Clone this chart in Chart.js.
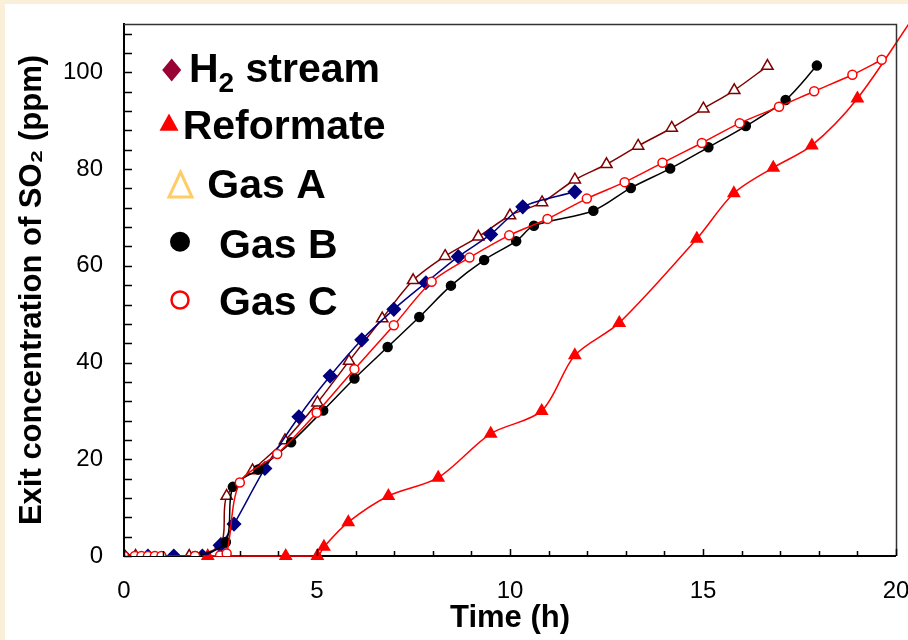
<!DOCTYPE html>
<html>
<head>
<meta charset="utf-8">
<script src="https://cdn.jsdelivr.net/npm/chart.js@4/dist/chart.umd.min.js"></script>
<style>
html,body{margin:0;padding:0;background:#fff;}
#wrap{width:908px;height:640px;position:relative;}
canvas{display:block;}
</style>
</head>
<body>
<div id="wrap"><canvas id="c" width="908" height="640"></canvas></div>
<script>
// ---------------- data ----------------
const xTitle = 'Time (h)';
const yTitle = 'Exit concentration of SO\u2082 (ppm)';
const legendLabels = ['H2 stream', 'Reformate', 'Gas A', 'Gas B', 'Gas C'];
const xTickLabels = [0, 5, 10, 15, 20];
const yTickLabels = [0, 20, 40, 60, 80, 100];

const h2StreamX = [0, 0.62, 1.29, 2.03, 2.49, 2.85, 3.65, 4.53, 5.34, 6.16, 6.99, 7.82, 8.66, 9.50, 10.33, 11.68];
const h2StreamY = [0, 0, 0, 0, 2.2, 6.6, 18.1, 28.8, 37.2, 44.7, 51.0, 56.5, 61.9, 66.5, 72.2, 75.3];

const reformateX = [2.17, 4.19, 5.01, 5.18, 5.81, 6.85, 8.14, 9.50, 10.82, 11.68, 12.83, 14.84, 15.80, 16.82, 17.82, 19.00, 20.50];
const reformateY = [0, 0, 0, 1.9, 7.0, 12.4, 16.2, 25.3, 30.0, 41.5, 48.2, 65.6, 75.0, 80.3, 84.9, 94.6, 112.0];

const gasAX = [0, 0.30, 1.69, 2.51, 2.66, 3.33, 4.17, 5.01, 5.83, 6.69, 7.49, 8.32, 9.18, 10.00, 10.83, 11.68, 12.50, 13.32, 14.19, 15.01, 15.81, 16.67];
const gasAY = [0, 0, 0, 2.4, 12.4, 17.7, 23.9, 31.7, 40.3, 49.1, 57.0, 62.0, 66.0, 70.4, 73.1, 77.8, 81.0, 84.8, 88.5, 92.5, 96.3, 101.3];

const gasBX = [0, 1.84, 2.64, 2.82, 3.48, 4.33, 5.16, 5.97, 6.83, 7.65, 8.47, 9.33, 10.16, 10.62, 12.16, 13.13, 14.15, 15.14, 16.11, 17.14, 17.95];
const gasBY = [0, 0, 2.9, 14.3, 17.9, 23.5, 30.1, 36.7, 43.2, 49.4, 55.9, 61.2, 65.1, 68.3, 71.4, 76.1, 80.1, 84.5, 88.9, 94.3, 101.4];

const gasCX = [0, 0.28, 0.45, 0.62, 0.80, 0.97, 1.84, 2.49, 2.66, 3.00, 3.97, 4.99, 5.97, 6.99, 7.97, 8.95, 9.98, 10.97, 11.99, 12.97, 13.95, 14.97, 15.95, 16.97, 17.88, 18.87, 19.63];
const gasCY = [0, 0, 0, 0, 0, 0, 0, 0.1, 0.5, 15.2, 21.1, 29.6, 38.6, 47.7, 56.7, 61.7, 66.3, 69.7, 73.9, 77.3, 81.3, 85.4, 89.5, 92.9, 96.1, 99.5, 102.6];

// ---------------- helpers ----------------
const FONT = "'Liberation Sans', Arial, Helvetica, sans-serif";
const pts = (xs, ys) => xs.map((x, i) => ({x: x, y: ys[i]}));

const bgPlugin = {
  id: 'bg',
  beforeDraw(chart) {
    const ctx = chart.ctx;
    ctx.save();
    ctx.fillStyle = '#FAF0DA';
    ctx.fillRect(0, 0, chart.width, chart.height);
    ctx.fillStyle = '#FFFFFF';
    ctx.fillRect(5, 4, chart.width - 5, chart.height - 4);
    ctx.restore();
  }
};

const ticksPlugin = {
  id: 'inTicks',
  afterDraw(chart) {
    const ctx = chart.ctx, a = chart.chartArea;
    const xs = chart.scales.x, ys = chart.scales.y;
    ctx.save();
    // frame top / right
    ctx.strokeStyle = '#333';
    ctx.lineWidth = 1.5;
    ctx.beginPath();
    ctx.moveTo(a.left, a.top + 0.5);
    ctx.lineTo(a.right + 0.5, a.top + 0.5);
    ctx.lineTo(a.right + 0.5, a.bottom);
    ctx.stroke();
    // inward ticks
    ctx.strokeStyle = '#000';
    ctx.lineWidth = 1.5;
    ctx.beginPath();
    xs.ticks.forEach(t => {
      const p = Math.round(xs.getPixelForValue(t.value)) + 0.5;
      const len = (t.value % 5 === 0) ? 7 : 5;
      ctx.moveTo(p, a.bottom);
      ctx.lineTo(p, a.bottom - len);
    });
    ys.ticks.forEach(t => {
      const p = Math.round(ys.getPixelForValue(t.value)) + 0.5;
      ctx.moveTo(a.left, p);
      ctx.lineTo(a.left + 8, p);
    });
    ctx.stroke();
    ctx.restore();
  }
};

const legendPlugin = {
  id: 'customLegend',
  afterDraw(chart) {
    const ctx = chart.ctx;
    ctx.save();
    // markers
    // H2 stream: diamond
    ctx.fillStyle = '#990033';
    ctx.beginPath();
    ctx.moveTo(171.7, 58.5); ctx.lineTo(181.2, 70); ctx.lineTo(171.7, 81.5); ctx.lineTo(162.2, 70);
    ctx.closePath(); ctx.fill();
    // Reformate: filled red triangle
    ctx.fillStyle = '#FF0000';
    ctx.beginPath();
    ctx.moveTo(169, 113.5); ctx.lineTo(178.5, 130.7); ctx.lineTo(159.5, 130.7);
    ctx.closePath(); ctx.fill();
    // Gas A: open orange triangle
    ctx.strokeStyle = '#FFCC66';
    ctx.lineWidth = 3;
    ctx.beginPath();
    ctx.moveTo(180.5, 172); ctx.lineTo(192, 197); ctx.lineTo(169, 197);
    ctx.closePath(); ctx.stroke();
    // Gas B: black dot
    ctx.fillStyle = '#000';
    ctx.beginPath(); ctx.arc(180, 241.7, 10, 0, Math.PI * 2); ctx.fill();
    // Gas C: open red circle
    ctx.fillStyle = '#fff';
    ctx.strokeStyle = '#FF0000';
    ctx.lineWidth = 2.5;
    ctx.beginPath(); ctx.arc(180, 300, 8.5, 0, Math.PI * 2); ctx.fill(); ctx.stroke();

    // texts
    ctx.fillStyle = '#000';
    ctx.textBaseline = 'alphabetic';
    ctx.textAlign = 'left';
    const big = 'bold 41px ' + FONT, sub = 'bold 28px ' + FONT;
    // "H2 stream" with subscript
    const h2 = legendLabels[0];
    ctx.font = big;
    ctx.fillText(h2.charAt(0), 189, 82);
    let x = 189 + ctx.measureText(h2.charAt(0)).width;
    ctx.font = sub;
    ctx.fillText(h2.charAt(1), x, 92);
    x += ctx.measureText(h2.charAt(1)).width;
    ctx.font = big;
    ctx.fillText(h2.slice(2), x, 82);
    ctx.fillText(legendLabels[1], 182.7, 139.3);
    ctx.fillText(legendLabels[2], 207.3, 198.3);
    ctx.fillText(legendLabels[3], 219, 257.7);
    ctx.fillText(legendLabels[4], 219, 315);
    ctx.restore();
  }
};

Chart.defaults.color = '#000';
Chart.defaults.font.family = FONT;

const common = {showLine: true, borderWidth: 1.5, tension: 0.3, pointBorderWidth: 1.5, pointHoverRadius: 0};

new Chart(document.getElementById('c'), {
  type: 'scatter',
  data: {
    datasets: [
      Object.assign({}, common, {
        label: legendLabels[4], data: pts(gasCX, gasCY),
        borderColor: '#FF0000', pointStyle: 'circle', pointRadius: 4.5,
        pointBackgroundColor: '#FFFFFF', pointBorderColor: '#FF0000'
      }),
      Object.assign({}, common, {
        label: legendLabels[3], data: pts(gasBX, gasBY),
        borderColor: '#000000', pointStyle: 'circle', pointRadius: 4.5,
        pointBackgroundColor: '#000000', pointBorderColor: '#000000'
      }),
      Object.assign({}, common, {
        label: legendLabels[0], data: pts(h2StreamX, h2StreamY),
        borderColor: '#000080', pointStyle: 'rectRot', pointRadius: 6.5,
        pointBackgroundColor: '#000080', pointBorderColor: '#000080'
      }),
      Object.assign({}, common, {
        label: legendLabels[2], data: pts(gasAX, gasAY),
        borderColor: '#800000', pointStyle: 'triangle', pointRadius: 6.5,
        pointBackgroundColor: '#FFFFFF', pointBorderColor: '#800000'
      }),
      Object.assign({}, common, {
        label: legendLabels[1], data: pts(reformateX, reformateY),
        borderColor: '#FF0000', pointStyle: 'triangle', pointRadius: 6.5,
        pointBackgroundColor: '#FF0000', pointBorderColor: '#FF0000',
        clip: false
      })
    ]
  },
  options: {
    responsive: false,
    animation: false,
    devicePixelRatio: 1,
    layout: {padding: {top: 24, right: 12, left: 0, bottom: 0}},
    plugins: {legend: {display: false}, tooltip: {enabled: false}},
    events: [],
    scales: {
      x: {
        type: 'linear', min: 0, max: 20,
        grid: {display: true, drawOnChartArea: false, drawTicks: false, lineWidth: 0},
        border: {display: true, color: '#000', width: 2},
        ticks: {
          stepSize: 1, autoSkip: false, maxRotation: 0, padding: 21,
          font: {size: 24},
          callback: v => xTickLabels.includes(v) ? String(v) : ''
        },
        title: {display: true, text: xTitle, font: {size: 31, weight: 'bold'}, padding: {top: 0, bottom: 3}},
        afterFit: s => { s.height = 84; s.paddingLeft = 0; s.paddingRight = 0; }
      },
      y: {
        type: 'linear', min: 0, max: 110,
        grid: {display: true, drawOnChartArea: false, drawTicks: false, lineWidth: 0},
        border: {display: true, color: '#000', width: 2},
        ticks: {
          stepSize: 4, autoSkip: false, includeBounds: false, padding: 21,
          font: {size: 24},
          callback: v => yTickLabels.includes(v) ? String(v) : ''
        },
        title: {display: true, text: yTitle, font: {size: 31, weight: 'bold'}, padding: {top: 14, bottom: 0}},
        afterFit: s => { s.width = 124; s.paddingTop = 0; s.paddingBottom = 0; }
      }
    }
  },
  plugins: [bgPlugin, ticksPlugin, legendPlugin]
});
</script>
</body>
</html>
